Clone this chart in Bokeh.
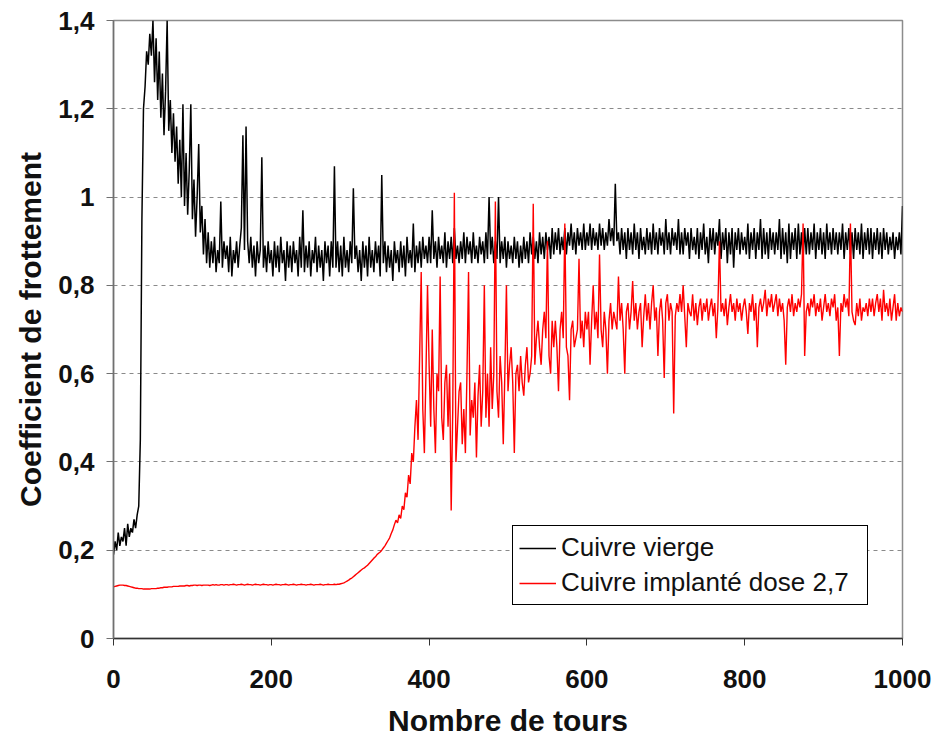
import numpy as np
from bokeh.plotting import figure
from bokeh.models import FixedTicker, Legend, LegendItem, ColumnDataSource
from bokeh.embed import file_html
from bokeh.resources import INLINE

# x step of the series (Nombre de tours)
x_step = 2

cuivre_vierge = [
    0.19, 0.22, 0.20, 0.24, 0.21, 0.23, 0.22, 0.25, 0.21, 0.26, 0.23, 0.25, 0.24, 0.27, 0.25, 0.28, 0.30, 0.45, 0.95, 1.20,
    1.25, 1.33, 1.30, 1.37, 1.32, 1.40, 1.26, 1.36, 1.22, 1.33, 1.18, 1.28, 1.14, 1.24, 1.40, 1.15, 1.22, 1.10, 1.19, 1.08,
    1.16, 1.03, 1.13, 1.00, 1.21, 0.98, 1.10, 0.96, 1.06, 1.21, 0.95, 1.04, 0.91, 1.00, 1.12, 0.92, 0.98, 0.87, 0.95, 0.85,
    0.92, 0.84, 0.90, 0.85, 0.91, 0.83, 0.88, 0.85, 0.99, 0.84, 0.90, 0.86, 0.89, 0.83, 0.91, 0.82, 0.88, 0.85, 0.90, 0.84,
    0.89, 0.93, 1.14, 0.88, 1.16, 0.90, 0.85, 0.91, 0.84, 0.89, 0.82, 0.90, 0.85, 0.88, 1.09, 0.84, 0.89, 0.83, 0.90, 0.85,
    0.88, 0.82, 0.90, 0.84, 0.89, 0.83, 0.91, 0.85, 0.88, 0.81, 0.90, 0.84, 0.89, 0.83, 0.90, 0.85, 0.88, 0.82, 0.91, 0.84,
    0.97, 0.83, 0.89, 0.84, 0.90, 0.82, 0.88, 0.85, 0.91, 0.83, 0.89, 0.84, 0.88, 0.81, 0.90, 0.85, 0.89, 0.82, 0.90, 0.84,
    1.07, 0.84, 0.90, 0.83, 0.89, 0.82, 0.91, 0.84, 0.88, 0.83, 0.90, 0.85, 1.02, 0.86, 0.89, 0.83, 0.88, 0.81, 0.90, 0.84,
    0.89, 0.82, 0.91, 0.84, 0.88, 0.83, 0.90, 0.85, 0.89, 0.82, 1.05, 0.85, 0.90, 0.83, 0.89, 0.84, 0.88, 0.81, 0.90, 0.85,
    0.88, 0.83, 0.90, 0.84, 0.89, 0.82, 0.91, 0.85, 0.88, 0.84, 0.94, 0.83, 0.89, 0.85, 0.90, 0.84, 0.91, 0.86, 0.89, 0.85,
    0.91, 0.85, 0.97, 0.86, 0.90, 0.84, 0.91, 0.86, 0.89, 0.85, 0.92, 0.84, 0.90, 0.86, 0.91, 0.85, 0.93, 0.86, 0.89, 0.85,
    0.90, 0.86, 0.92, 0.85, 0.91, 0.87, 0.90, 0.85, 0.92, 0.86, 0.89, 0.85, 0.91, 0.87, 0.90, 0.85, 0.92, 0.86, 1.00, 0.87,
    0.91, 0.85, 0.90, 0.86, 1.00, 0.85, 0.90, 0.86, 0.91, 0.84, 0.90, 0.86, 0.89, 0.85, 0.91, 0.86, 0.90, 0.84, 0.89, 0.85,
    0.91, 0.86, 0.90, 0.85, 0.92, 0.87, 0.91, 0.86, 0.90, 0.85, 0.92, 0.87, 0.91, 0.86, 0.92, 0.88, 0.91, 0.86, 0.93, 0.87,
    0.92, 0.88, 0.93, 0.87, 0.91, 0.88, 0.93, 0.87, 0.92, 0.89, 0.94, 0.88, 0.92, 0.87, 0.93, 0.89, 0.92, 0.88, 0.94, 0.88,
    0.92, 0.89, 0.94, 0.88, 0.93, 0.89, 0.92, 0.88, 0.94, 0.89, 0.93, 0.88, 0.92, 0.89, 0.95, 0.90, 0.93, 0.89, 1.03, 0.90,
    0.92, 0.87, 0.93, 0.88, 0.92, 0.86, 0.93, 0.88, 0.92, 0.87, 0.94, 0.88, 0.92, 0.86, 0.93, 0.88, 0.91, 0.87, 0.93, 0.88,
    0.92, 0.87, 0.94, 0.88, 0.92, 0.87, 0.93, 0.89, 0.92, 0.87, 0.95, 0.88, 0.92, 0.87, 0.93, 0.89, 0.92, 0.88, 0.95, 0.87,
    0.92, 0.87, 0.93, 0.89, 0.92, 0.86, 0.93, 0.88, 0.91, 0.87, 0.93, 0.86, 0.92, 0.88, 0.94, 0.87, 0.91, 0.85, 0.93, 0.88,
    0.93, 0.87, 0.92, 0.89, 0.95, 0.86, 0.92, 0.88, 0.93, 0.85, 0.92, 0.87, 0.93, 0.84, 0.92, 0.88, 0.93, 0.87, 0.92, 0.88,
    0.91, 0.87, 0.94, 0.86, 0.92, 0.88, 0.93, 0.86, 0.92, 0.88, 0.95, 0.86, 0.93, 0.87, 0.92, 0.86, 0.93, 0.88, 0.92, 0.87,
    0.92, 0.88, 0.95, 0.86, 0.93, 0.87, 0.92, 0.85, 0.94, 0.86, 0.92, 0.88, 0.93, 0.86, 0.94, 0.87, 0.92, 0.86, 0.93, 0.87,
    0.93, 0.87, 0.92, 0.88, 0.94, 0.86, 0.92, 0.88, 0.93, 0.87, 0.92, 0.86, 0.94, 0.88, 0.92, 0.87, 0.93, 0.88, 0.92, 0.87,
    0.92, 0.88, 0.94, 0.86, 0.92, 0.88, 0.93, 0.87, 0.92, 0.86, 0.93, 0.88, 0.92, 0.87, 0.94, 0.86, 0.92, 0.88, 0.93, 0.87,
    0.93, 0.86, 0.92, 0.88, 0.93, 0.87, 0.92, 0.86, 0.93, 0.88, 0.92, 0.87, 0.91, 0.88, 0.92, 0.86, 0.91, 0.88, 0.92, 0.87,
    0.98,
]

cuivre_implante = [
    0.117, 0.118, 0.119, 0.120, 0.121, 0.121, 0.121, 0.120, 0.120, 0.119, 0.118, 0.117, 0.116, 0.115, 0.114, 0.114, 0.113, 0.113, 0.113, 0.112,
    0.112, 0.112, 0.112, 0.112, 0.113, 0.113, 0.113, 0.113, 0.114, 0.114, 0.115, 0.115, 0.116, 0.116, 0.116, 0.117, 0.117, 0.117, 0.118, 0.118,
    0.118, 0.118, 0.119, 0.119, 0.119, 0.119, 0.120, 0.120, 0.119, 0.120, 0.120, 0.121, 0.121, 0.120, 0.121, 0.121, 0.120, 0.121, 0.121, 0.121,
    0.121, 0.120, 0.121, 0.122, 0.121, 0.122, 0.121, 0.121, 0.122, 0.122, 0.121, 0.122, 0.122, 0.121, 0.122, 0.122, 0.123, 0.122, 0.121, 0.122,
    0.122, 0.123, 0.122, 0.121, 0.122, 0.123, 0.122, 0.122, 0.121, 0.122, 0.123, 0.122, 0.122, 0.121, 0.122, 0.123, 0.122, 0.122, 0.121, 0.122,
    0.122, 0.121, 0.122, 0.123, 0.122, 0.122, 0.121, 0.122, 0.122, 0.123, 0.122, 0.121, 0.122, 0.122, 0.123, 0.122, 0.121, 0.122, 0.122, 0.123,
    0.122, 0.122, 0.121, 0.122, 0.122, 0.123, 0.122, 0.121, 0.122, 0.122, 0.122, 0.123, 0.122, 0.121, 0.122, 0.122, 0.123, 0.122, 0.122, 0.122,
    0.123, 0.122, 0.123, 0.123, 0.124, 0.125, 0.126, 0.128, 0.130, 0.132, 0.135, 0.137, 0.140, 0.143, 0.146, 0.149, 0.152, 0.155, 0.158, 0.160,
    0.163, 0.166, 0.170, 0.174, 0.178, 0.182, 0.185, 0.190, 0.193, 0.196, 0.200, 0.205, 0.210, 0.216, 0.222, 0.228, 0.238, 0.246, 0.258, 0.268,
    0.262, 0.280, 0.272, 0.300, 0.292, 0.330, 0.320, 0.370, 0.350, 0.420, 0.400, 0.480, 0.540, 0.450, 0.640, 0.830, 0.520, 0.420, 0.600, 0.800,
    0.62, 0.48, 0.70, 0.52, 0.42, 0.60, 0.56, 0.82, 0.50, 0.45, 0.58, 0.62, 0.48, 0.60, 0.29, 0.52, 1.01, 0.40, 0.48, 0.56,
    0.58, 0.44, 0.52, 0.42, 0.60, 0.83, 0.46, 0.54, 0.50, 0.58, 0.41, 0.55, 0.62, 0.48, 0.56, 0.80, 0.50, 0.60, 0.48, 0.66,
    0.52, 0.60, 0.99, 0.56, 0.50, 0.64, 0.58, 0.44, 0.60, 0.80, 0.56, 0.62, 0.66, 0.58, 0.42, 0.60, 0.62, 0.56, 0.64, 0.58,
    0.55, 0.62, 0.66, 0.58, 0.60, 0.64, 0.985, 0.62, 0.68, 0.72, 0.66, 0.62, 0.70, 0.74, 0.68, 0.90, 0.64, 0.60, 0.72, 0.66,
    0.72, 0.66, 0.56, 0.70, 0.74, 0.68, 0.94, 0.66, 0.64, 0.54, 0.70, 0.72, 0.66, 0.68, 0.70, 0.86, 0.68, 0.72, 0.66, 0.74,
    0.70, 0.74, 0.62, 0.72, 0.80, 0.70, 0.74, 0.68, 0.87, 0.70, 0.66, 0.74, 0.70, 0.60, 0.72, 0.76, 0.70, 0.74, 0.72, 0.70,
    0.82, 0.72, 0.76, 0.70, 0.60, 0.74, 0.76, 0.70, 0.74, 0.81, 0.72, 0.76, 0.70, 0.74, 0.76, 0.66, 0.73, 0.78, 0.72, 0.76,
    0.70, 0.76, 0.80, 0.72, 0.75, 0.64, 0.74, 0.77, 0.72, 0.59, 0.76, 0.78, 0.72, 0.76, 0.74, 0.51, 0.73, 0.76, 0.74, 0.78,
    0.74, 0.80, 0.73, 0.66, 0.76, 0.74, 0.73, 0.78, 0.72, 0.76, 0.71, 0.75, 0.77, 0.72, 0.76, 0.74, 0.77, 0.72, 0.75, 0.77,
    0.73, 0.76, 0.68, 0.75, 0.90, 0.74, 0.76, 0.73, 0.77, 0.71, 0.75, 0.78, 0.74, 0.76, 0.72, 0.77, 0.74, 0.76, 0.72, 0.75,
    0.77, 0.74, 0.69, 0.76, 0.74, 0.78, 0.72, 0.76, 0.66, 0.75, 0.77, 0.74, 0.76, 0.79, 0.73, 0.77, 0.75, 0.78, 0.74, 0.76,
    0.78, 0.73, 0.77, 0.74, 0.76, 0.72, 0.62, 0.75, 0.77, 0.74, 0.78, 0.73, 0.76, 0.74, 0.77, 0.75, 0.78, 0.94, 0.64, 0.74,
    0.76, 0.73, 0.77, 0.75, 0.78, 0.73, 0.76, 0.74, 0.77, 0.72, 0.75, 0.78, 0.74, 0.76, 0.73, 0.77, 0.75, 0.78, 0.72, 0.75,
    0.64, 0.76, 0.74, 0.78, 0.75, 0.77, 0.73, 0.94, 0.74, 0.72, 0.71, 0.76, 0.73, 0.77, 0.72, 0.75, 0.74, 0.76, 0.73, 0.77,
    0.74, 0.77, 0.73, 0.76, 0.78, 0.74, 0.77, 0.72, 0.79, 0.74, 0.76, 0.73, 0.77, 0.72, 0.75, 0.78, 0.72, 0.76, 0.73, 0.75,
    0.74,
]

series_names = ["Cuivre vierge", "Cuivre implanté dose 2,7"]
series_colors = ["#000000", "#ff0000"]

x_ticks = [0, 200, 400, 600, 800, 1000]
y_ticks = [0, 0.2, 0.4, 0.6, 0.8, 1.0, 1.2, 1.4]
y_tick_labels = ["0", "0,2", "0,4", "0,6", "0,8", "1", "1,2", "1,4"]

x_label = "Nombre de tours"
y_label = "Coefficient de frottement"

FONT = "Liberation Sans"

p = figure(
    output_backend="svg", toolbar_location=None,
    frame_width=789, frame_height=618,
    min_border_left=113, min_border_right=30, min_border_top=20, min_border_bottom=96,
    x_range=(0, 1000), y_range=(0, 1.4),
    background_fill_color="white", border_fill_color="white",
)
p.outline_line_color = "#8c8c8c"
p.outline_line_width = 1.5

src_b = ColumnDataSource(dict(x=np.arange(len(cuivre_vierge)) * x_step, y=cuivre_vierge))
src_r = ColumnDataSource(dict(x=np.arange(len(cuivre_implante)) * x_step, y=cuivre_implante))
r_b = p.line("x", "y", source=src_b, line_color=series_colors[0], line_width=1.5)
r_r = p.line("x", "y", source=src_r, line_color=series_colors[1], line_width=1.4)

# grid
p.xgrid.visible = False
p.ygrid.ticker = FixedTicker(ticks=y_ticks[1:-1])
p.ygrid.grid_line_color = "#8a8a8a"
p.ygrid.grid_line_dash = "4 4"
p.ygrid.grid_line_width = 1

# axes
p.xaxis.ticker = FixedTicker(ticks=x_ticks)
p.yaxis.ticker = FixedTicker(ticks=y_ticks)
p.yaxis.major_label_overrides = {t: l for t, l in zip(y_ticks, y_tick_labels)}
for ax in (p.xaxis[0], p.yaxis[0]):
    ax.major_tick_in = 0
    ax.major_tick_out = 7
    ax.minor_tick_line_color = None
    ax.major_label_text_font = FONT
    ax.major_label_text_font_style = "bold"
    ax.major_label_text_font_size = "26px"
    ax.major_label_text_color = "#111111"
    ax.axis_label_text_font = FONT
    ax.axis_label_text_font_style = "bold"
    ax.axis_label_text_font_size = "30px"
    ax.axis_label_text_color = "#111111"
    ax.axis_line_width = 1.5
p.xaxis.axis_line_color = "#333333"
p.xaxis.major_tick_line_color = "#333333"
p.yaxis.axis_line_color = "#707070"
p.yaxis.major_tick_line_color = "#707070"
p.xaxis.axis_label = x_label
p.yaxis.axis_label = y_label
p.xaxis.major_label_standoff = 24
p.xaxis.axis_label_standoff = 13
p.yaxis.major_label_standoff = 12
p.yaxis.axis_label_standoff = 8

legend = Legend(
    items=[LegendItem(label=series_names[0], renderers=[r_b]),
           LegendItem(label=series_names[1], renderers=[r_r])],
    location=(399, 33),
    label_text_font=FONT, label_text_font_size="26px", label_text_color="#111111",
    glyph_width=37, label_standoff=5, spacing=4, padding=6, margin=0,
    label_width=300,
    border_line_color="#000000", border_line_alpha=1.0, border_line_width=1.5,
    background_fill_color="white", background_fill_alpha=1.0,
)
p.add_layout(legend, "center")

open("out.html", "w").write(file_html(p, INLINE))
